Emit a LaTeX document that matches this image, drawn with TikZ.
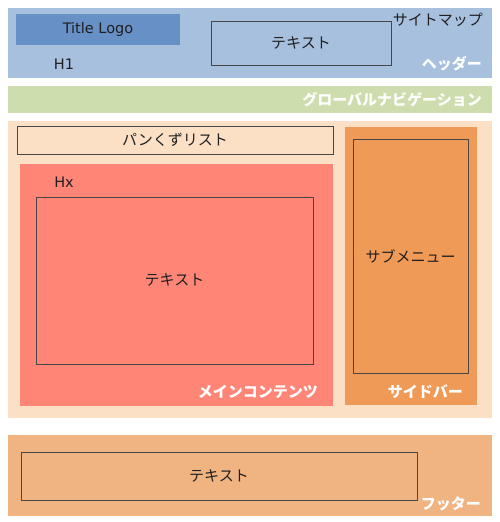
\documentclass[tikz,border=0pt]{standalone}
\usepackage{fontspec}
\setmainfont{Noto Sans CJK JP}
\newfontfamily\latinfont{DejaVu Sans}
\begin{document}
\begin{tikzpicture}[x=1pt,y=-1pt,
  framebox/.style={draw=black!72,line width=0.9pt,inner sep=0pt},
  txt/.style={font=\fontsize{15}{17}\selectfont,text=black!88,inner sep=0pt},
  ltxt/.style={font=\latinfont\fontsize{14.5}{17}\selectfont,text=black!88,inner sep=0pt},
  wlabel/.style={font=\fontsize{15}{17}\selectfont\bfseries,text=white,inner sep=0pt,anchor=east}]
\definecolor{hdr}{HTML}{A7C0DE}
\definecolor{logo}{HTML}{6690C6}
\definecolor{nav}{HTML}{CEDDAD}
\definecolor{cont}{HTML}{FCE0C6}
\definecolor{mainc}{HTML}{FF8677}
\definecolor{side}{HTML}{EF9A56}
\definecolor{foot}{HTML}{F0B482}
\useasboundingbox (0,0) rectangle (500,522);
% header
\fill[hdr] (8,8) rectangle (492,78);
\fill[logo] (16,14) rectangle (180,45);
\node[ltxt] (logo) at (98,29.5) {Title Logo};
\draw[framebox] (211,21) rectangle (391,65);
\node[txt] (htext) at (301,43) {テキスト};
\node[txt,anchor=east] (sitemap) at (483,20) {サイトマップ};
\node[ltxt] (h1) at (64,64) {H1};
\node[wlabel] (header) at (482,64) {ヘッダー};
% nav
\fill[nav] (8,86) rectangle (492,113);
\node[wlabel] (gnav) at (482,100) {グローバルナビゲーション};
% content
\fill[cont] (8,121) rectangle (492,418);
\draw[framebox] (17,126) rectangle (333,154);
\node[txt] (bread) at (175,140) {パンくずリスト};
\fill[mainc] (20,164) rectangle (333,406);
\node[ltxt] (hx) at (64,182) {Hx};
\draw[framebox] (36,197) rectangle (313,364);
\node[txt] (mtext) at (174.5,280) {テキスト};
\node[wlabel] (mainl) at (318,392) {メインコンテンツ};
\fill[side] (345,127) rectangle (477,405);
\draw[framebox] (353,139) rectangle (468,373);
\node[txt] (submenu) at (410.5,256) {サブメニュー};
\node[wlabel] (sidel) at (463,392) {サイドバー};
% footer
\fill[foot] (8,435) rectangle (492,516);
\draw[framebox] (21,452) rectangle (417,500);
\node[txt] (ftext) at (219,476) {テキスト};
\node[wlabel] (footl) at (481,504) {フッター};
\end{tikzpicture}
\end{document}
